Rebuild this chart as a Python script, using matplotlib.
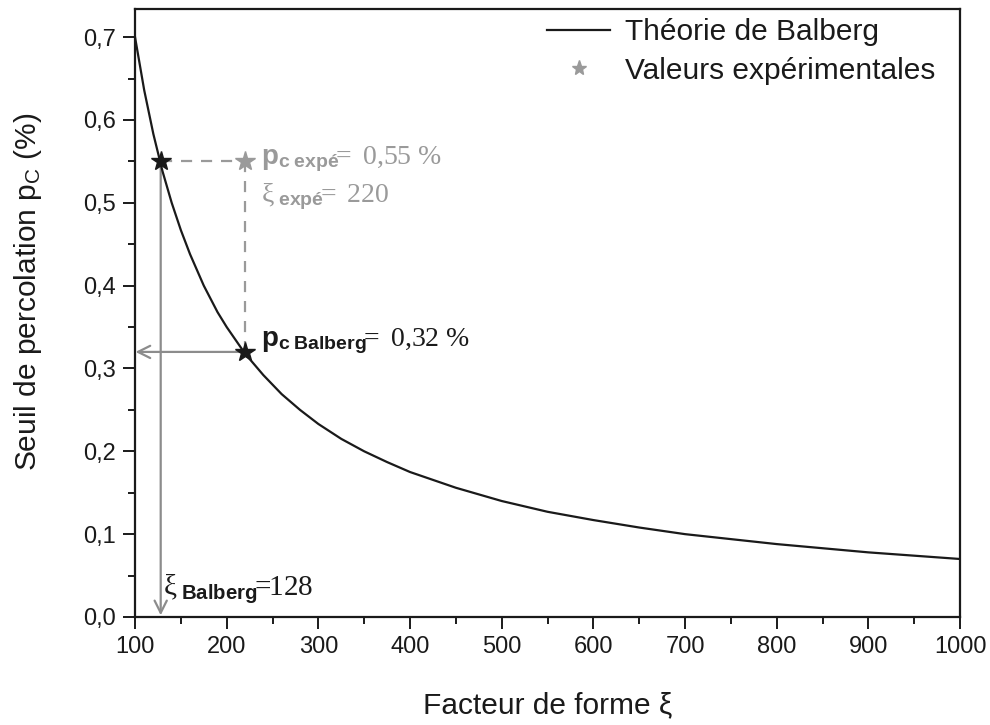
import matplotlib
matplotlib.use("Agg")
import matplotlib.pyplot as plt
from matplotlib.ticker import MultipleLocator, FuncFormatter
from matplotlib.lines import Line2D

plt.rcParams['font.family'] = ['Liberation Sans', 'DejaVu Sans']
plt.rcParams['mathtext.fontset'] = 'custom'
plt.rcParams['mathtext.rm'] = 'Liberation Serif'
plt.rcParams['mathtext.it'] = 'Liberation Serif:italic'
plt.rcParams['mathtext.bf'] = 'Liberation Sans:bold'
plt.rcParams['mathtext.sf'] = 'Liberation Sans'

# Balberg theoretical curve (form factor vs percolation threshold, %)
xi_theory = [100, 110, 120, 130, 140, 150, 160, 175, 190, 200, 220, 240, 260,
             280, 300, 325, 350, 375, 400, 450, 500, 550, 600, 650, 700, 800,
             900, 1000]
pc_theory = [0.700, 0.636, 0.583, 0.538, 0.500, 0.467, 0.438, 0.400, 0.368,
             0.350, 0.318, 0.292, 0.269, 0.250, 0.233, 0.215, 0.200, 0.187,
             0.175, 0.156, 0.140, 0.127, 0.117, 0.108, 0.100, 0.088, 0.078,
             0.070]

# Experimental point and Balberg-derived values
xi_expe = 220
pc_expe = 0.55
xi_balberg = 128
pc_balberg = 0.32

GREY_TXT = '#9a9a9a'
GREY_LINE = '#8c8c8c'
BLACK = '#1a1a1a'

fig = plt.figure(figsize=(9.9, 7.25), dpi=100)
ax = fig.add_axes([0.1364, 0.149, 0.8333, 0.8386])

ax.plot(xi_theory, pc_theory, color=BLACK, lw=1.6, zorder=3)

# Construction lines
ax.plot([xi_balberg, xi_expe], [pc_expe, pc_expe], color=GREY_TXT, lw=1.6,
        ls=(0, (5, 4)), zorder=2)
ax.plot([xi_expe, xi_expe], [pc_expe, pc_balberg], color=GREY_TXT, lw=1.6,
        ls=(0, (5, 4)), zorder=2)
ax.annotate('', xy=(100.5, pc_balberg), xytext=(xi_expe, pc_balberg),
            arrowprops=dict(arrowstyle='->', color=GREY_LINE, lw=1.6,
                            mutation_scale=22, shrinkA=0, shrinkB=0), zorder=2)
ax.annotate('', xy=(xi_balberg, 0.002), xytext=(xi_balberg, pc_expe),
            arrowprops=dict(arrowstyle='->', color=GREY_LINE, lw=1.6,
                            mutation_scale=22, shrinkA=0, shrinkB=0), zorder=2)

# Markers
ax.plot([xi_balberg, xi_expe], [pc_expe, pc_balberg], ls='none', marker='*',
        ms=15, color=BLACK, zorder=5)
ax.plot([xi_expe], [pc_expe], ls='none', marker='*', ms=15, color=GREY_TXT,
        zorder=5)

# Annotations
ax.text(237, 0.553, r'$\mathbf{p}_{\mathbf{c\ expé}}\!\!\mathrm{=\ 0{,}55\ \%}$',
        color=GREY_TXT, fontsize=20, va='center', ha='left')
ax.text(237, 0.508, r'$\mathrm{ξ}_{\mathbf{\ expé}}\!\!\mathrm{=\ 220}$',
        color=GREY_TXT, fontsize=20, va='center', ha='left')
ax.text(237, 0.333, r'$\mathbf{p}_{\mathbf{c\ Balberg}}\!\!\mathrm{=\ 0{,}32\ \%}$',
        color=BLACK, fontsize=20, va='center', ha='left')
ax.text(131, 0.034, r'$\mathrm{ξ}_{\mathbf{\ Balberg}}\!\!\mathrm{=}\!\!\mathrm{128}$',
        color=BLACK, fontsize=21, va='center', ha='left')

ax.set_xlim(100, 1000)
ax.set_ylim(0, 0.734)

ax.xaxis.set_major_locator(MultipleLocator(100))
ax.xaxis.set_minor_locator(MultipleLocator(50))
ax.yaxis.set_major_locator(MultipleLocator(0.1))
ax.yaxis.set_minor_locator(MultipleLocator(0.05))
ax.yaxis.set_major_formatter(FuncFormatter(lambda v, p: f'{v:.1f}'.replace('.', ',')))
ax.xaxis.set_major_formatter(FuncFormatter(lambda v, p: f'{int(round(v))}'))

ax.tick_params(which='major', direction='out', length=8.5, width=1.4,
               labelsize=17, color=BLACK, labelcolor=BLACK, pad=5)
ax.tick_params(which='minor', direction='out', length=5, width=1.4,
               color=BLACK)
for s in ax.spines.values():
    s.set_linewidth(1.6)
    s.set_color(BLACK)

ax.set_xlabel('Facteur de forme ξ', fontsize=21.5, color=BLACK, labelpad=24)
ax.set_ylabel(r'Seuil de percolation p$\mathregular{_C}$ (%)', fontsize=21.5,
              color=BLACK)
ax.yaxis.set_label_coords(-0.110, 0.535)

handles = [Line2D([], [], color=BLACK, lw=1.6),
           Line2D([], [], ls='none', marker='*', ms=11, color=GREY_TXT)]
ax.legend(handles, ['Théorie de Balberg', 'Valeurs expérimentales'],
          loc='upper right', bbox_to_anchor=(0.970, 0.985), frameon=False,
          fontsize=21.5, handlelength=2.1, handletextpad=0.5, borderpad=0,
          borderaxespad=0, labelspacing=0.35, labelcolor=BLACK)

fig.savefig('out.png', dpi=100)
